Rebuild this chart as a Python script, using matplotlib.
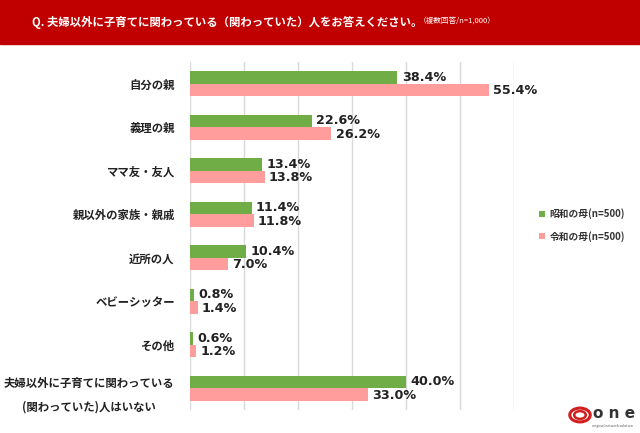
import matplotlib
matplotlib.use('Agg')
import matplotlib.pyplot as plt
import numpy as np
from matplotlib.patches import Rectangle, Circle

plt.rcParams['font.family'] = ['Noto Sans CJK JP', 'DejaVu Sans']

categories = ['自分の親', '義理の親', 'ママ友・友人', '親以外の家族・親戚', '近所の人',
              'ベビーシッター', 'その他', '夫婦以外に子育てに関わっている\n(関わっていた)人はいない']
showa = [38.4, 22.6, 13.4, 11.4, 10.4, 0.8, 0.6, 40.0]
reiwa = [55.4, 26.2, 13.8, 11.8, 7.0, 1.4, 1.2, 33.0]
series_names = ['昭和の母(n=500)', '令和の母(n=500)']

GREEN = '#70AD47'
PINK = '#FF9C9C'

fig = plt.figure(figsize=(6.4, 4.33), dpi=100)

# title bar
fig.patches.append(Rectangle((0, 1 - 44 / 433), 1, 44 / 433, transform=fig.transFigure,
                             color='#C00000', zorder=0))
fig.text(32 / 640, 1 - 22 / 433, 'Q. 夫婦以外に子育てに関わっている（関わっていた）人をお答えください。',
         color='white', fontsize=8.2, fontweight='bold', va='center', ha='left')
fig.text(419 / 640, 1 - 22 / 433, '（複数回答/n=1,000）', color='white', fontsize=5.5,
         va='center', ha='left')

ax = fig.add_axes([190 / 640, 1 - 410 / 433, (514 - 190) / 640, (410 - 62) / 433])

y = np.arange(len(categories))
h = 0.29
ax.barh(y - h / 2, showa, height=h, color=GREEN, label=series_names[0], zorder=3)
ax.barh(y + h / 2, reiwa, height=h, color=PINK, label=series_names[1], zorder=3)

for i in range(len(categories)):
    ax.text(showa[i] + 0.8, y[i] - h / 2, f'{showa[i]:.1f}%', va='center', ha='left',
            fontsize=9.2, fontweight='bold', family='DejaVu Sans', color='#222222')
    ax.text(reiwa[i] + 0.8, y[i] + h / 2 + 0.02, f'{reiwa[i]:.1f}%', va='center', ha='left',
            fontsize=9.2, fontweight='bold', family='DejaVu Sans', color='#222222')

ax.set_xlim(0, 60)
ax.set_ylim(len(categories) - 0.5, -0.5)
ax.set_xticks(np.arange(0, 61, 10))
ax.set_xticklabels([])
ax.tick_params(axis='x', length=0)
ax.tick_params(axis='y', length=0, pad=11)
ax.set_yticks(y)
ax.set_yticklabels(categories, fontsize=8.2, fontweight='bold', color='#222222',
                   multialignment='center', linespacing=2.1)
ax.grid(axis='x', color='#D9D9D9', linewidth=1, zorder=0)
for s in ax.spines.values():
    s.set_visible(False)

leg = ax.legend(loc='center left', bbox_to_anchor=(530 / 640, 1 - 225 / 433),
                bbox_transform=fig.transFigure, frameon=False, fontsize=7,
                handlelength=0.6, handleheight=0.6, handletextpad=0.5, labelspacing=1.2)
for t in leg.get_texts():
    t.set_fontweight('bold')
    t.set_color('#333333')

# logo
lx, ly = 580 / 640, 1 - 415 / 433
for r, lw in [(0.016, 2.2), (0.009, 1.8)]:
    fig.patches.append(Circle((lx, ly), r, transform=fig.transFigure, fill=False,
                              edgecolor='#D21E1E', linewidth=lw))
fig.text(593 / 640, 1 - 414 / 433, 'o n e', fontsize=11, fontweight='bold', color='#333333',
         va='center', ha='left', family='DejaVu Sans')
fig.text(592 / 640, 1 - 426 / 433, 'original network solution', fontsize=2.5, color='#555555',
         va='center', ha='left')

fig.savefig('out.png', dpi=100)
